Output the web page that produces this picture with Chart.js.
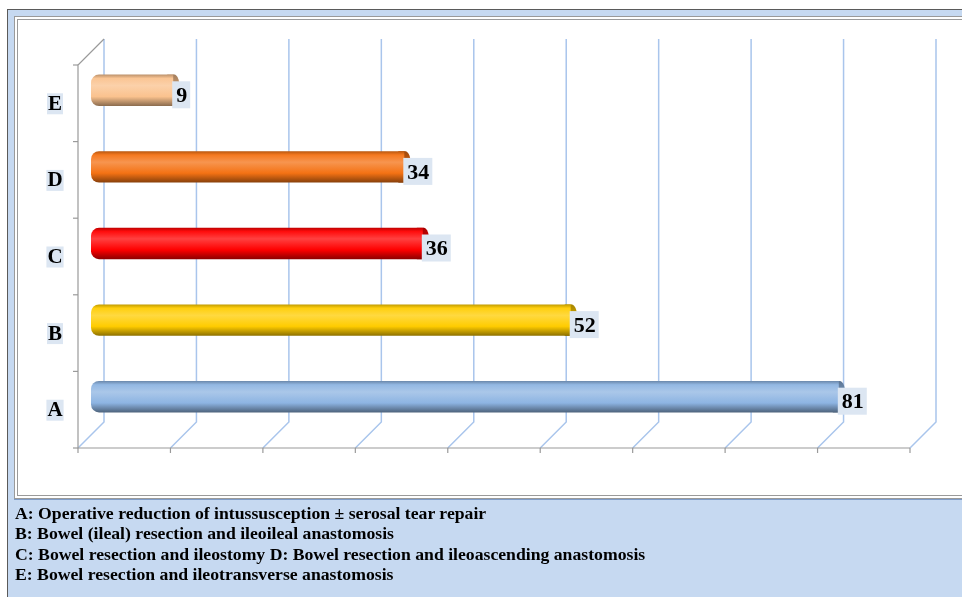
<!DOCTYPE html>
<html>
<head>
<meta charset="utf-8">
<script src="https://cdn.jsdelivr.net/npm/chart.js@4/dist/chart.umd.min.js"></script>
<style>
  body { margin: 0; background: #fff; }
  #page { position: relative; width: 962px; height: 597px; overflow: hidden; }
  #frame { position: absolute; left: 7px; top: 9px; width: 970px; height: 600px;
    border-left: 1px solid #5a5a5a; border-top: 1px solid #5a5a5a; background: #c6d9f1; }
  #plotbox { position: absolute; left: 14px; top: 16px; width: 960px; height: 475px;
    border: 4px double #9a9a9a; background: #fff; box-shadow: 0 1px 0 #7e9cc8; }
  #notes { position: absolute; left: 15px; top: 503px; font-family: "Liberation Serif", serif;
    font-weight: bold; font-size: 17.7px; line-height: 20.4px; color: #000; white-space: nowrap; }
  canvas { position: absolute; left: 0; top: 0; }
</style>
</head>
<body>
<div id="page">
  <div id="frame"></div>
  <div id="plotbox"></div>
  <canvas id="surgeryChart" width="962" height="597"></canvas>
  <div id="notes"></div>
</div>
<script>
const categories = ["A", "B", "C", "D", "E"];
const patientCounts = [81, 52, 36, 34, 9];
const barColors = ["#8db4e2", "#ffcc00", "#ff0000", "#f47214", "#fac28e"];
const xMax = 90;
const xStep = 10;
const notes = [
  "A: Operative reduction of intussusception \u00b1 serosal tear repair",
  "B: Bowel (ileal) resection and ileoileal anastomosis",
  "C: Bowel resection and ileostomy D: Bowel resection and ileoascending anastomosis",
  "E: Bowel resection and ileotransverse anastomosis",
];

document.getElementById("notes").innerHTML = notes.join("<br>");

const depth = 13;
const barPct = 0.41;
const serif = '"Liberation Serif", "Times New Roman", serif';

const shade = (hex, f) => {
  const n = parseInt(hex.slice(1), 16);
  let r = (n >> 16) & 255, g = (n >> 8) & 255, b = n & 255;
  if (f < 0) { r *= 1 + f; g *= 1 + f; b *= 1 + f; }
  else { r += (255 - r) * f; g += (255 - g) * f; b += (255 - b) * f; }
  return `rgb(${Math.round(r)},${Math.round(g)},${Math.round(b)})`;
};

const barHeight = (chart) => (chart.chartArea.bottom - chart.chartArea.top) / categories.length * barPct;

const cylinderFill = (c) => {
  const base = barColors[c.dataIndex];
  const chart = c.chart;
  if (c.type !== "data" || !chart.chartArea || !chart.scales.y) return base;
  const cy = chart.scales.y.getPixelForValue(c.dataIndex);
  const h = barHeight(chart);
  const g = chart.ctx.createLinearGradient(0, cy - h / 2, 0, cy + h / 2);
  g.addColorStop(0, shade(base, -0.25));
  g.addColorStop(0.12, shade(base, 0.05));
  g.addColorStop(0.35, shade(base, 0.25));
  g.addColorStop(0.7, base);
  g.addColorStop(1, shade(base, -0.45));
  return g;
};

// grid, walls and axes of the 3-D box, drawn from the scales
const boxPlugin = {
  id: "box3d",
  beforeDatasetsDraw(chart) {
    const { ctx, chartArea: a, scales: { x } } = chart;
    const top = a.top, bot = a.bottom;
    ctx.save();
    ctx.lineWidth = 1.5;
    ctx.strokeStyle = "#a9c5ec";
    for (let v = 0; v <= xMax; v += xStep) {
      const px = x.getPixelForValue(v);
      ctx.beginPath();
      ctx.moveTo(px + depth, top - depth);
      ctx.lineTo(px + depth, bot - depth);
      ctx.lineTo(px - depth, bot + depth);
      ctx.stroke();
    }
    ctx.lineWidth = 1.2;
    ctx.strokeStyle = "#9a9a9a";
    const x0 = x.getPixelForValue(0) - depth;
    ctx.beginPath();
    ctx.moveTo(x0 + 2 * depth, top - depth);
    ctx.lineTo(x0, top + depth);
    ctx.lineTo(x0, bot + depth);
    ctx.lineTo(x.getPixelForValue(xMax) - depth, bot + depth);
    ctx.stroke();
    for (let v = 0; v <= xMax; v += xStep) {
      const px = x.getPixelForValue(v) - depth;
      ctx.beginPath();
      ctx.moveTo(px, bot + depth);
      ctx.lineTo(px, bot + depth + 5);
      ctx.stroke();
    }
    const step = (bot - top) / categories.length;
    for (let i = 0; i <= categories.length; i++) {
      const py = top + depth + i * step;
      ctx.beginPath();
      ctx.moveTo(x0, py);
      ctx.lineTo(x0 - 5, py);
      ctx.stroke();
    }
    ctx.restore();
  },
  afterDatasetsDraw(chart) {
    const { ctx, scales: { y } } = chart;
    const meta = chart.getDatasetMeta(0);
    const h = barHeight(chart);
    ctx.save();
    meta.data.forEach((bar, i) => {
      const { x: bx, y: by } = bar.getProps(["x", "y"], true);
      const base = barColors[i];
      // end cap of the cylinder
      const g = ctx.createLinearGradient(0, by - h / 2, 0, by + h / 2);
      g.addColorStop(0, shade(base, -0.35));
      g.addColorStop(0.5, shade(base, -0.15));
      g.addColorStop(1, shade(base, -0.5));
      ctx.fillStyle = g;
      ctx.beginPath();
      ctx.ellipse(bx, by, 6, h / 2, 0, 0, Math.PI * 2);
      ctx.fill();
      ctx.fillStyle = cylinderFill({ type: "data", dataIndex: i, chart });
      ctx.fillRect(bx - 7, by - h / 2, 6, h);

      // value label
      const txt = String(patientCounts[i]);
      ctx.font = `bold 22px ${serif}`;
      const w = ctx.measureText(txt).width + 7;
      ctx.fillStyle = "#dce6f2";
      ctx.fillRect(bx - 2, by - 9, w, 27);
      ctx.fillStyle = "#000";
      ctx.textAlign = "left";
      ctx.textBaseline = "middle";
      ctx.fillText(txt, bx + 2, by + 6);

      // category label on the front plane
      const cy = y.getPixelForValue(i) + depth;
      ctx.font = `bold 21px ${serif}`;
      const cw = ctx.measureText(categories[i]).width + 2;
      ctx.fillStyle = "#dce6f2";
      ctx.fillRect(55 - cw / 2, cy - 10, cw, 21);
      ctx.fillStyle = "#000";
      ctx.textAlign = "center";
      ctx.fillText(categories[i], 55, cy + 1);
    });
    ctx.restore();
  },
};

new Chart(document.getElementById("surgeryChart"), {
  type: "bar",
  data: {
    labels: categories,
    datasets: [
      {
        data: patientCounts,
        backgroundColor: cylinderFill,
        borderWidth: 0,
        borderSkipped: false,
        borderRadius: { topLeft: 8, bottomLeft: 8, topRight: 0, bottomRight: 0 },
        barPercentage: barPct,
        categoryPercentage: 1,
      },
    ],
  },
  options: {
    indexAxis: "y",
    responsive: false,
    animation: false,
    layout: { padding: { left: 91, right: 39, top: 52, bottom: 162 } },
    plugins: { legend: { display: false }, tooltip: { enabled: false } },
    scales: {
      x: { display: false, min: 0, max: xMax },
      y: { display: false, reverse: true },
    },
  },
  plugins: [boxPlugin],
});
</script>
</body>
</html>
